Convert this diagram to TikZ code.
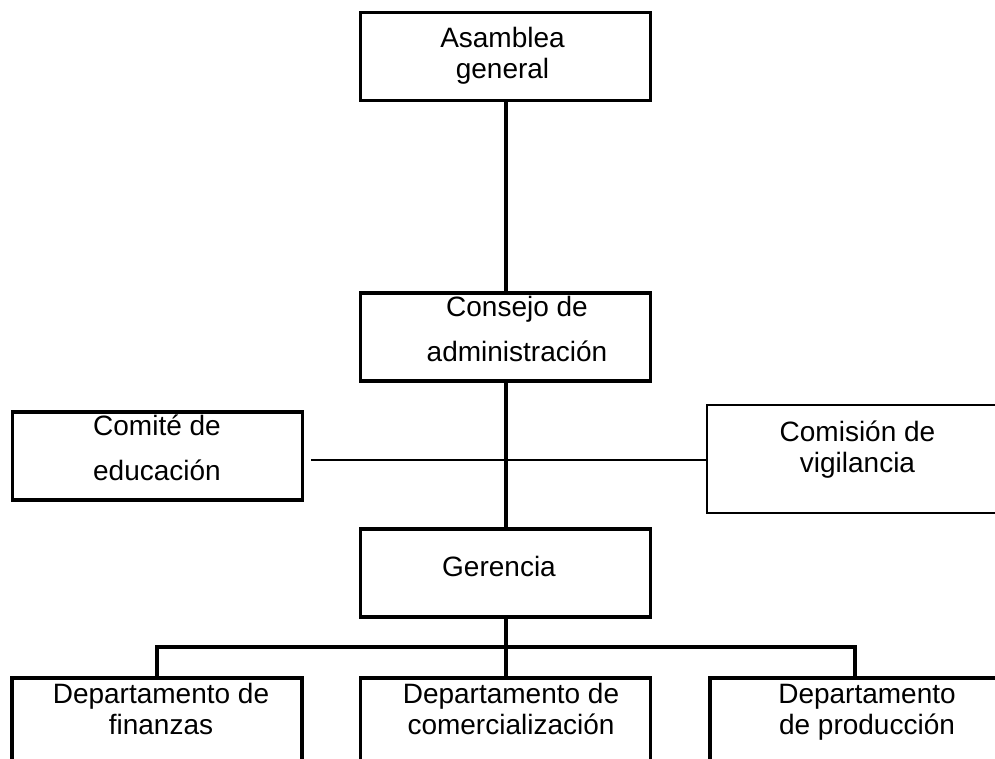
\documentclass[tikz,border=0pt]{standalone}
\usepackage{fontspec}
\setmainfont{Liberation Sans}
\begin{document}
\begin{tikzpicture}[x=1pt,y=-1pt, line join=miter,
	caja/.style={draw, line width=3.5pt, inner sep=0pt, minimum width=290pt, minimum height=88pt},
	cajafina/.style={caja, line width=1.8pt},
	rotulo/.style={font=\fontsize{28}{31}\selectfont, align=center, inner sep=0pt},
	rotuloancho/.style={rotulo, font=\fontsize{28}{45}\selectfont},
	linea/.style={line width=4pt},
	lineafina/.style={line width=2pt}]
		\useasboundingbox (0,0) rectangle (995,758);
		\clip (0,0) rectangle (995,758);
		% cajas
		\node[caja] (asamblea) at (505.5,56.5) {};
		\node[caja] (consejo) at (505.5,337) {};
		\node[caja] (gerencia) at (505.5,573) {};
		\node[caja] (comite) at (157.5,456) {};
		\node[cajafina, minimum width=301pt, minimum height=108pt] (comision) at (857.5,459) {};
		\node[caja] (finanzas) at (157,722) {};
		\node[caja] (comercializacion) at (505.5,722) {};
		\node[caja, minimum width=314pt] (produccion) at (867,722) {};
		% textos
		\node[rotulo] (tAsamblea) at (502.5,55.3) {Asamblea\\general};
		\node[rotuloancho] (tConsejo) at (517,329.3) {Consejo de\\administración};
		\node[rotulo] (tGerencia) at (499,566.8) {Gerencia};
		\node[rotuloancho] (tComite) at (157,447.5) {Comité de\\educación};
		\node[rotulo] (tComision) at (857.5,450) {Comisión de\\vigilancia};
		\foreach \n/\x/\y/\t in {tFinanzas/161/709/Departamento de\\finanzas,
			tComercializacion/511/709/Departamento de\\comercialización,
			tProduccion/867/712/Departamento\\de producción}
		\node[rotulo] (\n) at (\x,\y) {\t};
		% conectores
		\coordinate (enlace) at (311,460);
		\coordinate (bus) at (gerencia.south |- 0,647);
		\coordinate (ramaP) at ([xshift=-12pt]produccion.north);
		\draw[linea] (asamblea) -- (consejo);
		\draw[linea] (consejo) -- (gerencia);
		\draw[lineafina] (enlace) -- (enlace -| comision.west);
		\draw[linea] (gerencia.south) -- (bus);
		\draw[linea] (finanzas.north) |- (bus) -| (ramaP);
		\draw[linea] (bus) -- (comercializacion.north);
\end{tikzpicture}
\end{document}
